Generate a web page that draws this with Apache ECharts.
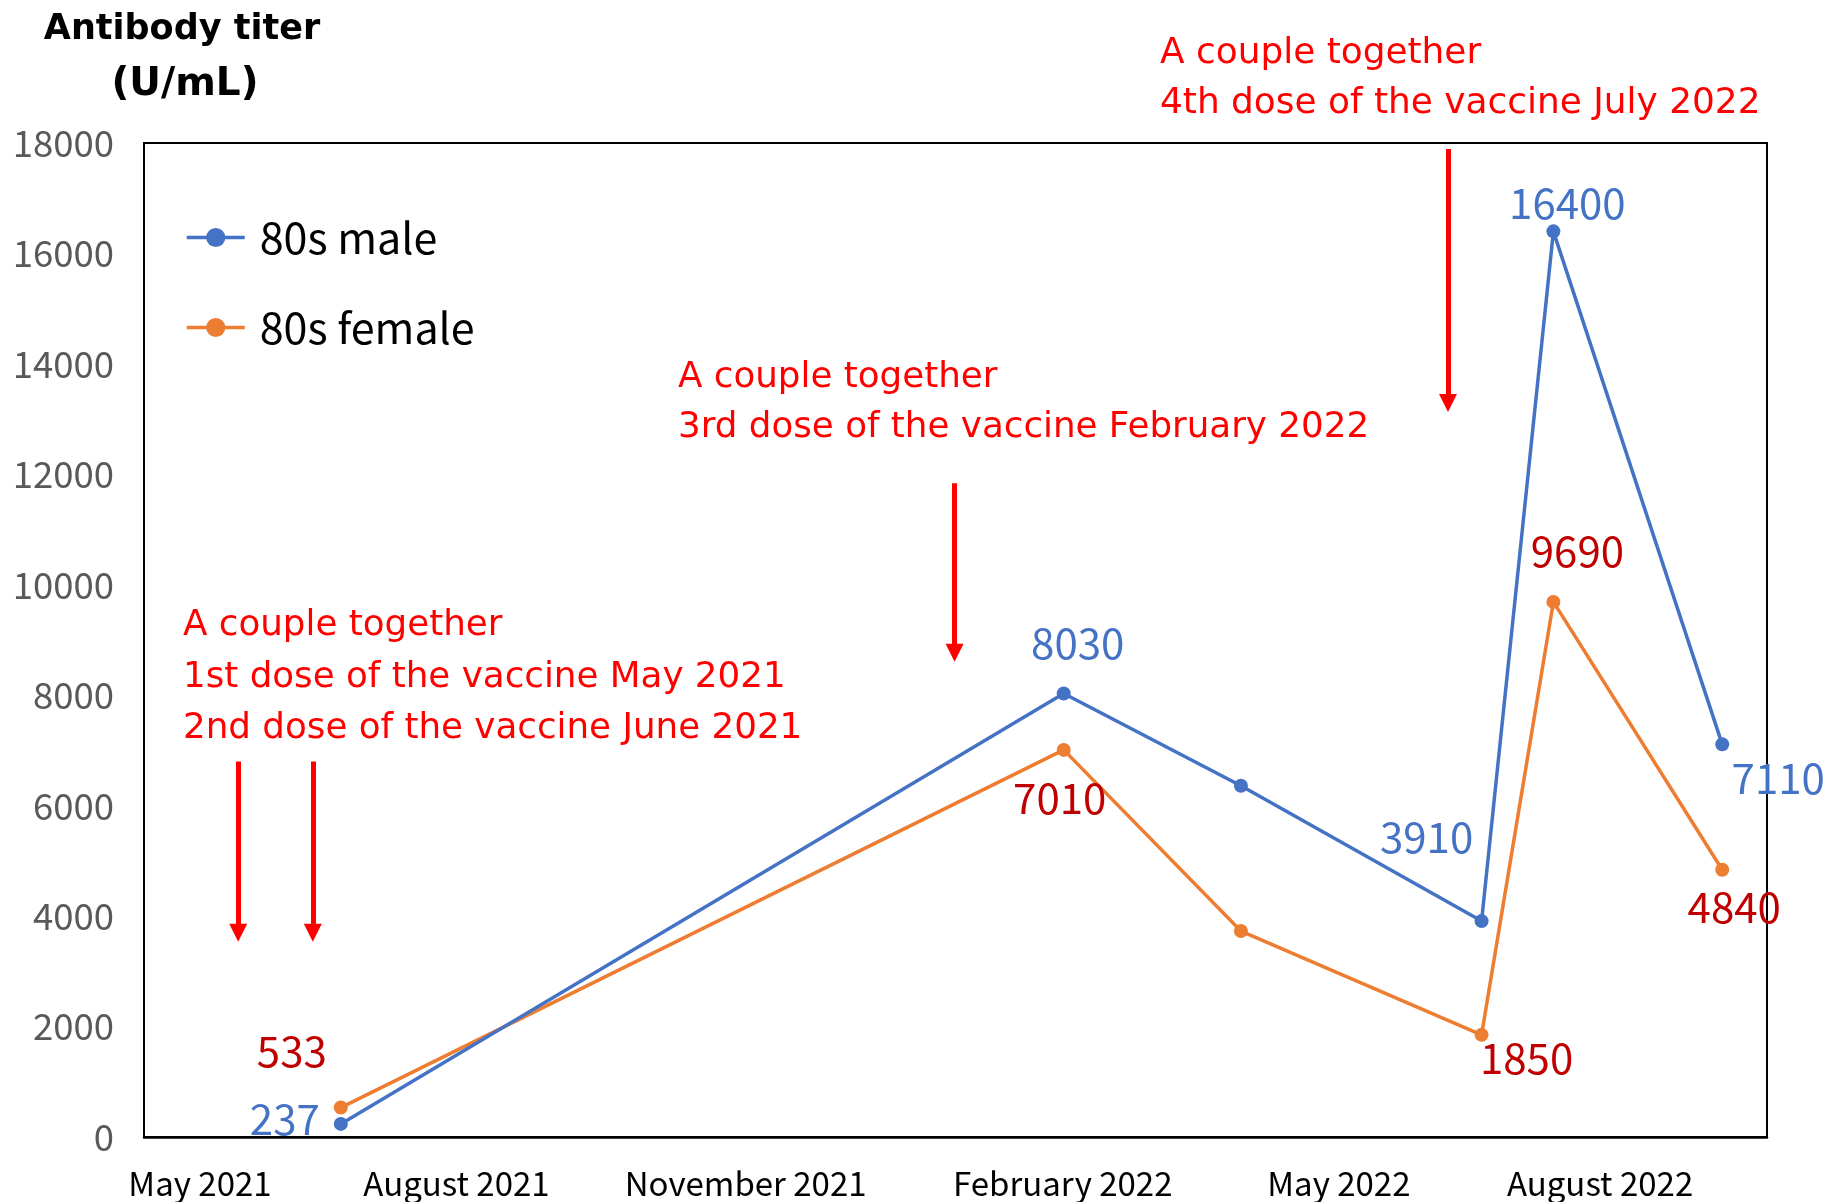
<!DOCTYPE html>
<html>
<head>
<meta charset="utf-8">
<script src="https://cdn.jsdelivr.net/npm/echarts@6/dist/echarts.min.js"></script>
<style>
  html, body { margin: 0; padding: 0; background: #fff; }
  #chart { width: 1837px; height: 1202px; }
</style>
</head>
<body>
<div id="chart"></div>
<script>
var myChart = echarts.init(document.getElementById('chart'));

// x in months counted from May 2021
var xMonths = [1.51, 9.26, 11.16, 13.74, 14.51, 16.32];
var maleValues = [237, 8030, 6360, 3910, 16400, 7110];
var femaleValues = [533, 7010, 3730, 1850, 9690, 4840];

var xTickValues = [0, 2.75, 5.85, 9.25, 12.21, 15.01];
var xTickLabels = ['May 2021', 'August 2021', 'November 2021', 'February 2022', 'May 2022', 'August 2022'];

// dose arrows: [x, yStart, yEnd]
var doseArrows = [
    [0.41, 6800, 3700],
    [1.21, 6800, 3700],
    [8.09, 11840, 8770],
    [13.38, 17890, 13290]
];

// label offsets from the point, null = no label
var maleLabelOffsets = [[-56, -5], [14, -51], null, [-55, -84], [14, -28], [56, 34]];
var femaleLabelOffsets = [[-49, -57], [-4, 48], null, [45, 23], [24, -51], [12, 37]];

var labelFont = '"Noto Sans CJK JP", "Noto Sans", sans-serif';
var noteFont = '"DejaVu Sans", sans-serif';

function buildData(values, offsets, color) {
    return values.map(function (v, i) {
        var off = offsets[i];
        return {
            value: [xMonths[i], v],
            label: off ? {
                show: true,
                position: 'inside',
                offset: off,
                color: color,
                fontSize: 42,
                fontFamily: labelFont,
                formatter: function (p) { return p.value[1]; }
            } : { show: false }
        };
    });
}

var arrowData = doseArrows.map(function (a) {
    return [{ coord: [a[0], a[1]] }, { coord: [a[0], a[2]] }];
});

var option = {
    animation: false,
    grid: {
        left: 144,
        right: 70,
        top: 143,
        bottom: 65,
        show: true,
        borderColor: '#000',
        borderWidth: 2,
        containLabel: false
    },
    legend: {
        orient: 'vertical',
        left: 180,
        top: 211,
        itemWidth: 58,
        itemHeight: 24,
        itemGap: 47,
        data: ['80s male', '80s female'],
        lineStyle: { width: 3.5 },
        textStyle: {
            fontSize: 43,
            fontFamily: labelFont,
            color: '#000',
            padding: [0, 0, 0, 10]
        }
    },
    xAxis: {
        type: 'value',
        min: -0.6,
        max: 16.8,
        axisLine: { show: true, lineStyle: { color: '#000', width: 2.5 } },
        axisTick: { show: false },
        splitLine: { show: false },
        axisLabel: {
            customValues: xTickValues,
            margin: 30,
            fontSize: 33,
            color: '#000',
            fontFamily: labelFont,
            formatter: function (v) {
                var i = xTickValues.indexOf(v);
                return i >= 0 ? xTickLabels[i] : '';
            }
        }
    },
    yAxis: {
        type: 'value',
        min: 0,
        max: 18000,
        interval: 2000,
        axisLine: { show: false },
        axisTick: { show: false },
        splitLine: { show: false },
        axisLabel: {
            margin: 30,
            fontSize: 36.5,
            color: '#595959',
            fontFamily: labelFont,
            formatter: function (v) { return String(v); }
        }
    },
    graphic: [
        {
            type: 'text',
            style: {
                x: 182,
                y: 30,
                text: 'Antibody titer',
                font: 'bold 35px "DejaVu Sans", sans-serif',
                fill: '#000',
                align: 'center',
                verticalAlign: 'middle'
            }
        },
        {
            type: 'text',
            style: {
                x: 185,
                y: 85,
                text: '(U/mL)',
                font: 'bold 39px "DejaVu Sans", sans-serif',
                fill: '#000',
                align: 'center',
                verticalAlign: 'middle'
            }
        },
        {
            type: 'text',
            left: 183,
            top: 600,
            style: {
                text: 'A couple together\n1st dose of the vaccine May 2021\n2nd dose of the vaccine June 2021',
                font: '35.7px ' + noteFont,
                fill: '#ff0000',
                lineHeight: 51.5
            }
        },
        {
            type: 'text',
            left: 678,
            top: 352,
            style: {
                text: 'A couple together\n3rd dose of the vaccine February 2022',
                font: '35.7px ' + noteFont,
                fill: '#ff0000',
                lineHeight: 50.5
            }
        },
        {
            type: 'text',
            left: 1160,
            top: 28,
            style: {
                text: 'A couple together\n4th dose of the vaccine July 2022',
                font: '35.9px ' + noteFont,
                fill: '#ff0000',
                lineHeight: 50.5
            }
        }
    ],
    series: [
        {
            name: '80s male',
            type: 'line',
            data: buildData(maleValues, maleLabelOffsets, '#4472C4'),
            symbol: 'circle',
            symbolSize: 14,
            itemStyle: { color: '#4472C4' },
            lineStyle: { color: '#4472C4', width: 3.5 },
            z: 3
        },
        {
            name: '80s female',
            type: 'line',
            data: buildData(femaleValues, femaleLabelOffsets, '#C00000'),
            symbol: 'circle',
            symbolSize: 14,
            itemStyle: { color: '#ED7D31' },
            lineStyle: { color: '#ED7D31', width: 3.5 },
            z: 2
        },
        {
            name: 'doses',
            type: 'line',
            data: [],
            silent: true,
            markLine: {
                silent: true,
                symbol: ['none', 'triangle'],
                symbolSize: 18,
                label: { show: false },
                lineStyle: { color: '#ff0000', width: 5, type: 'solid' },
                itemStyle: { color: '#ff0000' },
                emphasis: { disabled: true },
                data: arrowData
            }
        }
    ]
};

myChart.setOption(option);
</script>
</body>
</html>
